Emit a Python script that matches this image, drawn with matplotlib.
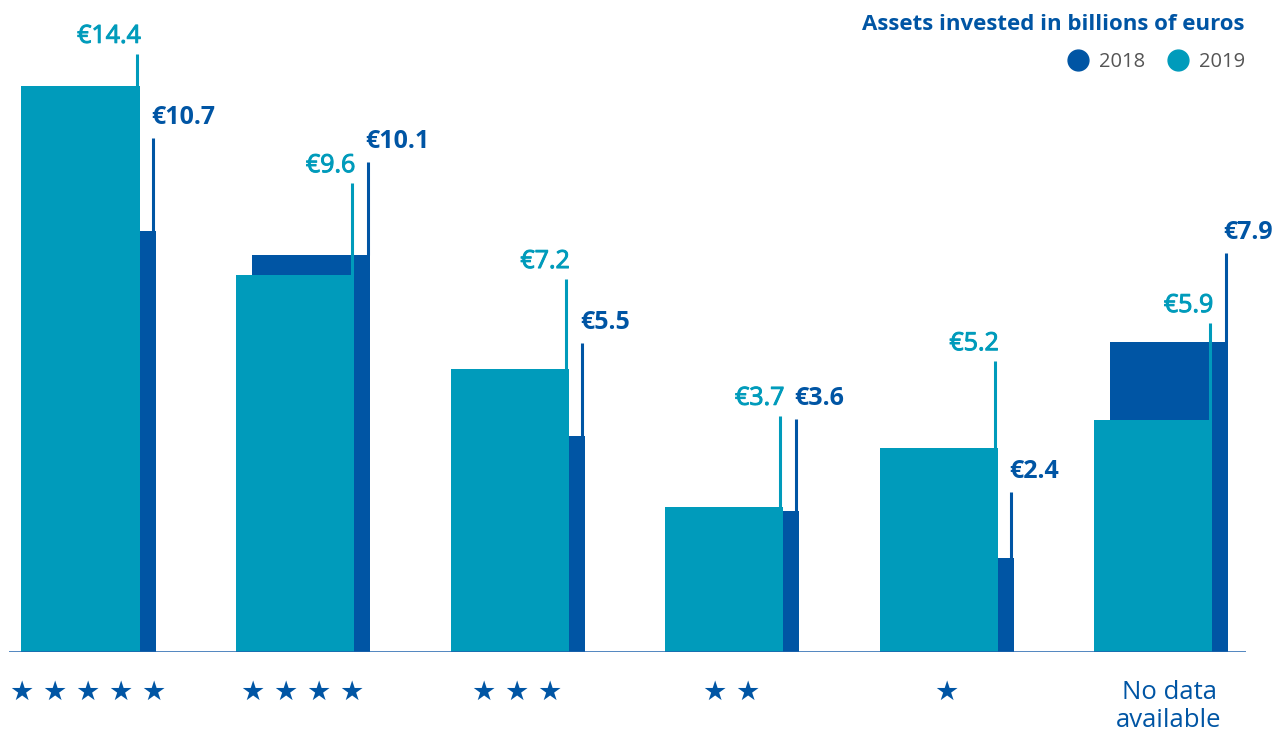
import matplotlib
matplotlib.use("Agg")
import matplotlib.pyplot as plt
import matplotlib.patheffects as pe
from matplotlib.lines import Line2D
from matplotlib.transforms import ScaledTranslation

plt.rcParams['font.family'] = ['Open Sans', 'DejaVu Sans']

# data
categories = ["★ ★ ★ ★ ★", "★ ★ ★ ★", "★ ★ ★", "★ ★", "★", "No data\navailable"]
assets_2018 = [10.7, 10.1, 5.5, 3.6, 2.4, 7.9]
assets_2019 = [14.4, 9.6, 7.2, 3.7, 5.2, 5.9]
labels_2018 = ["€10.7", "€10.1", "€5.5", "€3.6", "€2.4", "€7.9"]
labels_2019 = ["€14.4", "€9.6", "€7.2", "€3.7", "€5.2", "€5.9"]

# layout: height where the leader line of each label ends
lead_2018 = [13.08, 12.47, 7.86, 5.93, 4.07, 10.15]
lead_2019 = [15.22, 11.93, 9.49, 6.01, 7.40, 8.37]

c2018 = "#0055a4"
c2019 = "#009bbb"

W, H = 1272, 733
fig = plt.figure(figsize=(W / 100, H / 100), dpi=100)
ax = fig.add_axes([9 / W, (H - 652) / H, (1246 - 9) / W, 652 / H])

pxx = 214.5          # pixels per category
pxy = 39.3           # pixels per billion
bw = 118 / pxx
off = 16 / pxx / 2
inset = 2.5 / pxx

x = list(range(len(categories)))
ax.bar([i + off for i in x], assets_2018, width=bw, color=c2018, zorder=1)
ax.bar([i - off for i in x], assets_2019, width=bw, color=c2019, zorder=2)

semi = [pe.withStroke(linewidth=0.7, foreground=c2019)]
for i in x:
    xd = i + off + bw / 2 - inset
    xt = i - off + bw / 2 - inset
    ax.vlines(xd, assets_2018[i], lead_2018[i], color=c2018, lw=2.2, zorder=3)
    ax.vlines(xt, assets_2019[i], lead_2019[i], color=c2019, lw=2.2, zorder=3)
    ax.annotate(labels_2018[i], (xd, lead_2018[i]), xytext=(-2, 14),
                textcoords='offset pixels', ha='left', va='baseline',
                color=c2018, fontsize=18, fontweight='bold')
    ax.annotate(labels_2019[i], (xt, lead_2019[i]), xytext=(4, 11),
                textcoords='offset pixels', ha='right', va='baseline',
                color=c2019, fontsize=18, path_effects=semi)

ax.axhline(0, color="#1f63ad", lw=1.8, zorder=4)
ax.set_xlim((9 - 88.5) / pxx, (1246 - 88.5) / pxx)
ax.set_ylim(0, 652 / pxy)
for s in ax.spines.values():
    s.set_visible(False)
ax.set_yticks([])
ax.set_xticks(x, categories)
ax.tick_params(axis='x', length=0, pad=20, colors=c2018)
for lbl in ax.get_xticklabels():
    if "★" in lbl.get_text():
        lbl.set_fontsize(19.5)
        lbl.set_family('DejaVu Sans')
    else:
        lbl.set_fontsize(18.5)
        lbl.set_linespacing(1.15)
        lbl.set_transform(lbl.get_transform() +
                          ScaledTranslation(8 / 100, 0, fig.dpi_scale_trans))

fig.text(1245 / W, 1 - 30 / H, "Assets invested in billions of euros",
         ha='right', va='baseline', color=c2018, fontsize=16, fontweight='bold')

handles = [Line2D([], [], marker='o', ls='', color=c2018, markersize=15),
           Line2D([], [], marker='o', ls='', color=c2019, markersize=15)]
leg = fig.legend(handles, ["2018", "2019"], loc='center right',
                 bbox_to_anchor=(1255 / W, 1 - 62 / H), ncol=2, frameon=False,
                 fontsize=14.5, handletextpad=0.45, columnspacing=1.0,
                 handlelength=1.2, borderpad=0)
for t in leg.get_texts():
    t.set_color("#555555")

fig.savefig("out.png", dpi=100)
